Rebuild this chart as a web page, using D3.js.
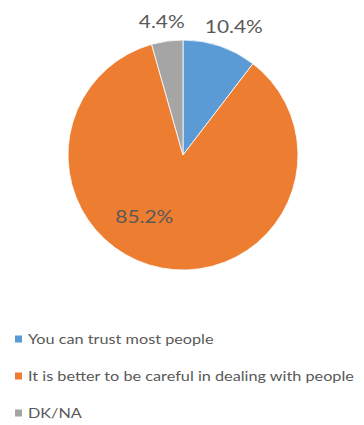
<!DOCTYPE html>
<html>
<head>
<meta charset="utf-8">
<script src="https://cdn.jsdelivr.net/npm/d3@7"></script>
<style>
  body { margin: 0; background: #fff; }
  text { font-family: Lato, "Open Sans", sans-serif; }
</style>
</head>
<body>
<div id="viz"></div>
<script>
var categories = ["You can trust most people", "It is better to be careful in dealing with people", "DK/NA"],
    values = [10.4, 85.2, 4.4],
    labels = ["10.4%", "85.2%", "4.4%"],
    colors = ["#5B9BD5", "#ED7D31", "#A5A5A5"];

var width = 364,
    height = 425,
    cx = 183, cy = 155,
    radius = 115,
    stretch = 1.16; // text in the original is a bit wider than Lato

var svg = d3.select('#viz').append('svg')
  .attr('width', width)
  .attr('height', height);

var pie = d3.pie().sort(null).value(d => d);
var arcs = pie(values);

var arc = d3.arc().innerRadius(0).outerRadius(radius);

var g = svg.append('g')
  .attr('transform', 'translate(' + cx + ',' + cy + ')');

g.selectAll('path')
  .data(arcs)
  .enter().append('path')
  .attr('d', arc)
  .attr('fill', (d, i) => colors[i])
  .attr('stroke', '#fff')
  .attr('stroke-width', 0.8);

// label placement (radius, angle shift in radians) per slice
var labelLayout = [[138, 0.05], [73, 0.37], [135, -0.02]];

function labelPos(d, i) {
  var a = (d.startAngle + d.endAngle) / 2 + labelLayout[i][1],
      r = labelLayout[i][0];
  return [r * Math.sin(a), -r * Math.cos(a)];
}

g.selectAll('text.label')
  .data(arcs)
  .enter().append('text')
  .attr('class', 'label')
  .attr('transform', function(d, i) {
    var p = labelPos(d, i);
    return 'translate(' + p[0] + ',' + p[1] + ') scale(' + stretch + ',1)';
  })
  .attr('text-anchor', 'middle')
  .attr('dy', '0.35em')
  .attr('font-size', 18)
  .attr('fill', '#595959')
  .text((d, i) => labels[i]);

// legend
var legend = svg.append('g')
  .attr('transform', 'translate(15, 339)');

var item = legend.selectAll('g')
  .data(categories)
  .enter().append('g')
  .attr('transform', (d, i) => 'translate(0,' + (i * 37) + ')');

item.append('rect')
  .attr('x', 0).attr('y', -3.5)
  .attr('width', 7).attr('height', 7)
  .attr('fill', (d, i) => colors[i]);

item.append('text')
  .attr('transform', 'translate(13,0) scale(' + stretch + ',1)')
  .attr('dy', '0.35em')
  .attr('font-size', 14)
  .attr('fill', '#595959')
  .text(d => d);
</script>
</body>
</html>
